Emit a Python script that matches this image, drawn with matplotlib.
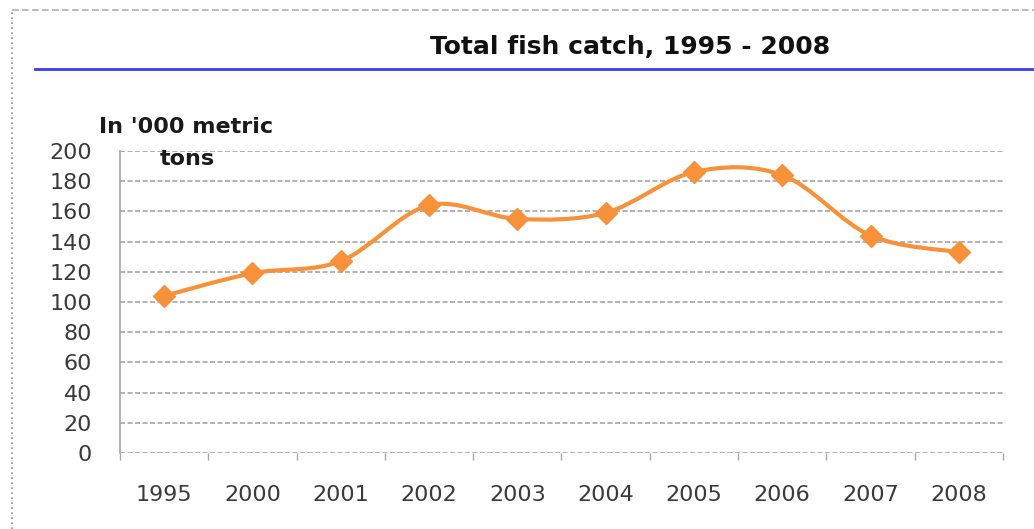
import matplotlib
matplotlib.use("Agg")
import matplotlib.pyplot as plt
from matplotlib.path import Path
from matplotlib.patches import PathPatch
from matplotlib.lines import Line2D
import numpy as np

# Data
years = ["1995", "2000", "2001", "2002", "2003", "2004", "2005", "2006", "2007", "2008"]
catch = [104, 119, 127, 164, 155, 159, 186, 184, 144, 133]
yticks = [0, 20, 40, 60, 80, 100, 120, 140, 160, 180, 200]

title = "Total fish catch, 1995 - 2008"
ylabel_lines = ["In '000 metric", "tons"]

orange = "#F7923A"
grid_col = "#A6A6A6"
text_col = "#3A3A3A"

fig = plt.figure(figsize=(10.34, 5.29), dpi=100)
ax = fig.add_axes([0.116, 0.1437, 0.854, 0.571])

x = np.arange(len(years))
y = np.array(catch, dtype=float)

# Smoothed line: cubic Bezier segments with Catmull-Rom control points
verts = [(x[0], y[0])]
codes = [Path.MOVETO]
n = len(x)
for i in range(n - 1):
    p0 = np.array([x[max(i - 1, 0)], y[max(i - 1, 0)]])
    p1 = np.array([x[i], y[i]])
    p2 = np.array([x[i + 1], y[i + 1]])
    p3 = np.array([x[min(i + 2, n - 1)], y[min(i + 2, n - 1)]])
    c1 = p1 + (p2 - p0) / 6.0
    c2 = p2 - (p3 - p1) / 6.0
    verts += [tuple(c1), tuple(c2), tuple(p2)]
    codes += [Path.CURVE4, Path.CURVE4, Path.CURVE4]
ax.add_patch(PathPatch(Path(verts, codes), facecolor="none", edgecolor=orange,
                       linewidth=3, zorder=3, capstyle="round", joinstyle="round"))
ax.plot(x, y, linestyle="none", marker="D", markersize=11, color=orange,
        markeredgecolor=orange, zorder=4)

ax.set_xlim(-0.5, len(years) - 0.5)
ax.set_ylim(0, 200)
ax.set_yticks(yticks)
ax.set_xticks(x)
ax.set_xticklabels(years)
ax.set_xticks(np.arange(-0.5, len(years), 1.0), minor=True)

for v in yticks:
    ax.axhline(v, color=grid_col, linewidth=1.2, linestyle=(0, (3, 1.5)), zorder=1)

for side in ("top", "right"):
    ax.spines[side].set_visible(False)
ax.spines["bottom"].set_visible(False)
ax.spines["left"].set_color(grid_col)
ax.spines["left"].set_linestyle((0, (2, 1)))
ax.spines["left"].set_linewidth(1.2)

ax.tick_params(axis="y", length=0, pad=20, labelsize=16, labelcolor=text_col)
ax.tick_params(axis="x", which="major", length=0, pad=23, labelsize=16,
               labelcolor=text_col)
ax.tick_params(axis="x", which="minor", length=5, color=grid_col, width=1)
for lab in ax.get_xticklabels() + ax.get_yticklabels():
    lab.set_family("DejaVu Sans")

# Unit label above the value axis, two centred lines
fig.text(0.18, 0.7486, ylabel_lines[0], ha="center", va="baseline", fontsize=16,
         fontweight="bold", family="DejaVu Sans", color="#1a1a1a", zorder=5)
fig.text(0.181, 0.688, ylabel_lines[1], ha="center", va="baseline", fontsize=16,
         fontweight="bold", family="DejaVu Sans", color="#1a1a1a", zorder=5)

fig.text(0.609, 0.911, title, ha="center", va="center", fontsize=18,
         fontweight="bold", family="DejaVu Sans", color="#111111")

# Blue rule under the title
fig.add_artist(Line2D([0.034, 1.0], [0.869, 0.869], color="#3A3AF0",
                      linewidth=2, transform=fig.transFigure))
# Dashed frame on the top and left edges
fig.add_artist(Line2D([0.012, 1.0], [0.981, 0.981], color="#B0B0B0",
                      linewidth=1.2, linestyle=(0, (4, 2)), transform=fig.transFigure))
fig.add_artist(Line2D([0.012, 0.012], [0.0, 0.981], color="#909090",
                      linewidth=1.2, linestyle=(0, (1, 2)), transform=fig.transFigure))

fig.savefig("out.png", dpi=100)
